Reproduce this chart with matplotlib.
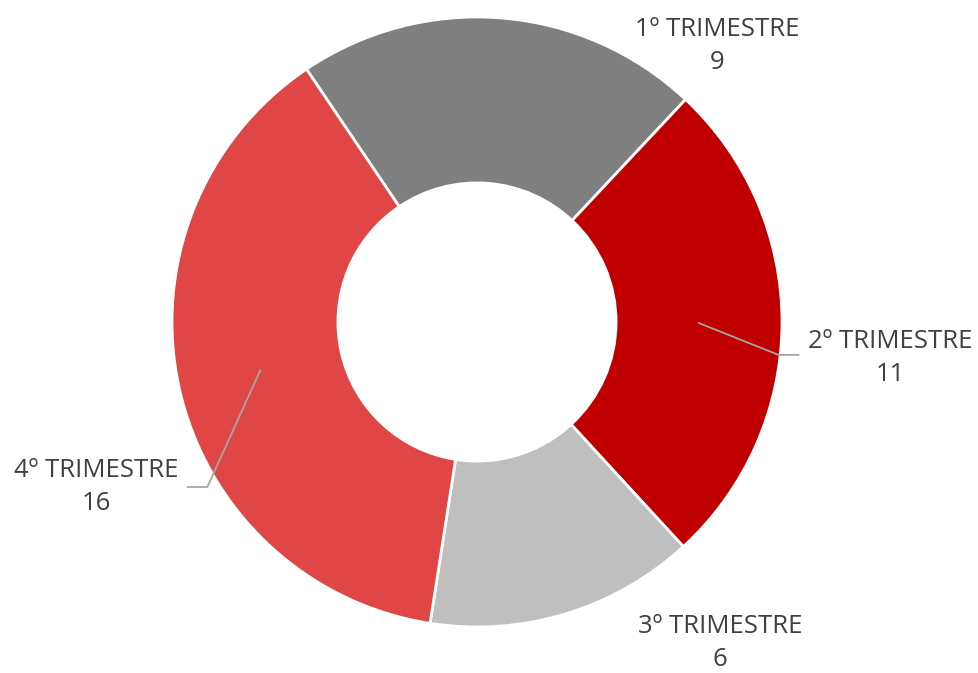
import matplotlib
matplotlib.use("Agg")
import matplotlib.pyplot as plt
import numpy as np

labels = ["1º TRIMESTRE", "2º TRIMESTRE", "3º TRIMESTRE", "4º TRIMESTRE"]
values = [9, 11, 6, 16]
colors = ["#7F7F7F", "#C00000", "#BFBFBF", "#E04646"]

# label placement (data units, pie radius = 1) and whether to draw a leader line
label_pos = [(0.787, 0.905), (1.354, -0.118), (0.797, -1.052), (-1.249, -0.541)]
leader = [False, True, False, True]

fig = plt.figure(figsize=(9.79, 6.73), dpi=100)
ax = fig.add_axes([0, 0, 1, 1])

start = 124
wedges, _ = ax.pie(values, colors=colors, startangle=start, counterclock=False,
                   radius=1, wedgeprops=dict(width=0.544, edgecolor="white", linewidth=2))

ax.set_aspect("equal")
ax.set_xlim(-477 / 305, (979 - 477) / 305)
ax.set_ylim(-(673 - 322) / 305, 322 / 305)
ax.axis("off")

mid_r = 0.728
for w, lab, v, (tx, ty), ld in zip(wedges, labels, values, label_pos, leader):
    ang = np.deg2rad((w.theta1 + w.theta2) / 2)
    if ld:
        px, py = mid_r * np.cos(ang), mid_r * np.sin(ang)
        side = 1 if tx > 0 else -1
        ey = ty if side < 0 else ty + 0.01
        ex_end = tx - side * 0.30
        ex_knee = ex_end - side * 0.065
        ax.plot([px, ex_knee, ex_end], [py, ey, ey], color="#A6A6A6", lw=1.3,
                solid_joinstyle="miter", zorder=3)
    ax.text(tx, ty, f"{lab}\n{v}", ha="center", va="center", fontsize=18.5,
            family="Open Sans", color="#404040", linespacing=1.42)

fig.savefig("out.png", dpi=100)
